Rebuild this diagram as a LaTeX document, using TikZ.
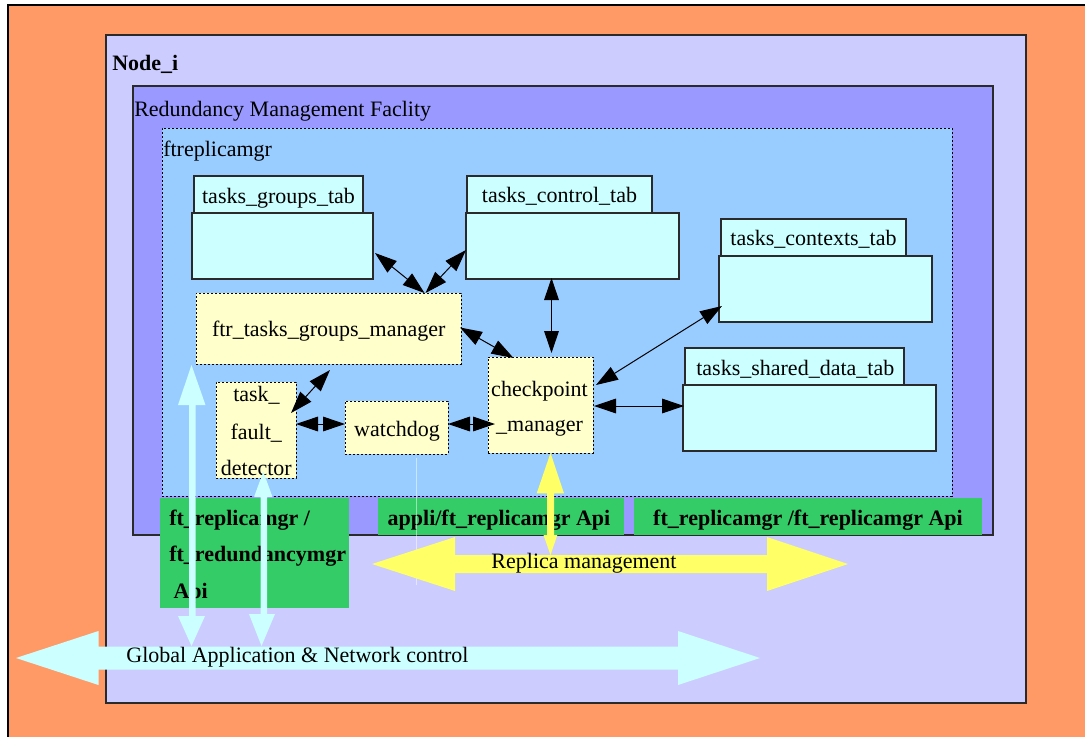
\documentclass[tikz,border=0pt]{standalone}
\usepackage{fontspec}
\setmainfont{Liberation Serif}
\usetikzlibrary{calc,arrows.meta}

\definecolor{siteorange}{HTML}{FF9966}
\definecolor{nodelav}{HTML}{CCCCFF}
\definecolor{rmfblue}{HTML}{9999FF}
\definecolor{ftrblue}{HTML}{99CCFF}
\definecolor{tabcyan}{HTML}{CCFFFF}
\definecolor{procyellow}{HTML}{FFFFCC}
\definecolor{apigreen}{HTML}{33CC66}
\definecolor{replyellow}{HTML}{FFFF66}
\definecolor{netcyan}{HTML}{CCFFFF}
\definecolor{edgegray}{HTML}{2A2A2A}

% box given by its top-left and bottom-right corners (in pixel units)
\newcommand{\pxbox}[6]{%
  \node[#2, minimum width={(#5-#3)*0.75pt}, minimum height={(#6-#4)*0.75pt}] (#1) at (#3,#4) {};}

\tikzset{
  px/.style={x=0.75pt,y=-0.75pt},
  txt/.style={font=\fontsize{16.5}{20}\selectfont, inner sep=0pt, anchor=base},
  btxt/.style={txt, font=\fontsize{16.5}{20}\selectfont\bfseries},
  box/.style={anchor=north west, inner sep=0pt, outer sep=0pt},
  frame/.style={box, draw=edgegray, line width=0.9pt},
  tabpart/.style={box, fill=tabcyan, draw=edgegray, line width=0.9pt},
  proc/.style={box, fill=procyellow, draw=black, line width=0.6pt, dash pattern=on 1.6pt off 1.4pt},
  api/.style={box, fill=apigreen},
  link/.style={draw=black, line width=0.75pt,
    {Triangle[length=16.5pt,width=11pt]}-{Triangle[length=16.5pt,width=11pt]}},
}

\begin{document}
\begin{tikzpicture}[px]
\useasboundingbox (0,0) rectangle (1085,736);
\clip (0,0) rectangle (1085,736);
\fill[white] (0,0) rectangle (1085,736);

% site background
\pxbox{site}{box, fill=siteorange, draw=black, line width=0.8pt}{8}{5}{1100}{750}

% Node_i
\pxbox{nodei}{frame, fill=nodelav}{106}{35}{1026}{703}
\node[btxt, anchor=base west] (nodeilbl) at (112,70.5) {Node\_i};

% Redundancy Management Facility
\pxbox{rmf}{frame, fill=rmfblue}{133}{86}{993}{535}
\node[txt, anchor=base west] (rmflbl) at (134,116) {Redundancy Management Faclity};

% ftreplicamgr
\pxbox{ftr}{proc, fill=ftrblue}{162}{128}{952}{496}
\node[txt, anchor=base west] (ftrlbl) at (163,156.5) {ftreplicamgr};

% tables
\pxbox{gtabb}{tabpart}{192}{213}{373}{279}
\pxbox{gtabh}{tabpart}{194}{176}{363}{213}
\node[txt] (gtablbl) at (278.5,203.3) {tasks\_groups\_tab};

\pxbox{ctabb}{tabpart}{466}{213}{679}{279}
\pxbox{ctabh}{tabpart}{467}{176}{652}{213}
\node[txt] (ctablbl) at (559.5,202.3) {tasks\_control\_tab};

\pxbox{xtabb}{tabpart}{719}{256}{932}{322}
\pxbox{xtabh}{tabpart}{721}{219}{906}{256}
\node[txt] (xtablbl) at (813.5,245) {tasks\_contexts\_tab};

\pxbox{stabb}{tabpart}{683}{385}{936}{451}
\pxbox{stabh}{tabpart}{685}{348}{904}{385}
\node[txt] (stablbl) at (795.3,375.7) {tasks\_shared\_data\_tab};

% processes
\pxbox{mgr}{proc}{196}{293}{461}{364}
\node[txt] (mgrlbl) at (328.7,336.7) {ftr\_tasks\_groups\_manager};

\pxbox{tfd}{proc}{216}{382}{296}{478}
\node[txt] (tfdlbl1) at (256.5,401.7) {task\_};
\node[txt] (tfdlbl2) at (256.2,439.3) {fault\_};
\node[txt] (tfdlbl3) at (256.3,475) {detector};

\pxbox{wd}{proc}{345}{401}{448}{454}
\node[txt] (wdlbl) at (397,436.7) {watchdog};

\pxbox{cpm}{proc}{488}{357}{593}{453}
\node[txt] (cpmlbl1) at (539.5,396.7) {checkpoint};
\node[txt] (cpmlbl2) at (539.5,431.7) {\_manager};

% connectors
\draw[link] ($(gtabb.east)+(2,7)$) -- ($(mgr.north)+(96,0)$);
\draw[link] ($(ctabb.west)+(0,4)$) -- ($(mgr.north)+(97,0)$);
\draw[link] ($(ctabb.south)+(-21,-1)$) -- ($(cpm.north)+(11,-4)$);
\draw[link] ($(mgr.east)+(-1,-1)$) -- ($(cpm.north)+(-27,1)$);
\draw[link] ($(cpm.east)+(3,-20)$) -- ($(xtabb.west)+(3,17)$);
\draw[link] ($(cpm.east)+(1,1)$) -- ($(stabb.west)+(1,-12)$);
\draw[link] ($(wd.east)+(0,-3.5)$) -- ($(cpm.west)+(7,19)$);
\draw[link] ($(tfd.east)+(0,-6)$) -- ($(wd.west)+(0,-3.5)$);
\draw[link] ($(mgr.south)+(1.5,6)$) -- ($(tfd.north east)+(-5,31)$);

% API bars
\pxbox{api1}{api}{160}{498}{349}{608}
\node[btxt, anchor=base west] (api1l1) at (169,525) {ft\_replicamgr /};
\node[btxt, anchor=base west] (api1l2) at (169,561.7) {ft\_redundancymgr};
\node[btxt, anchor=base west] (api1l3) at (173.3,598.3) {Api};

\pxbox{api2}{api}{378}{498}{624}{535}
\node[btxt] (api2lbl) at (499,525.7) {appli/ft\_replicamgr Api};

\pxbox{api3}{api}{634}{498}{982}{535}
\node[btxt] (api3lbl) at (808,525) {ft\_replicamgr /ft\_replicamgr Api};

% faint guide line
\draw[white, opacity=0.5, line width=0.4pt] (416.7,458) -- (416.7,585);

% replica management arrows
\coordinate (cpmport) at ($(cpm.south)+(10,0)$);
\fill[replyellow] (372,564) -- (455,537) -- (455,555) -- (767,555) -- (767,537)
  -- (848,564) -- (767,591) -- (767,573) -- (455,573) -- (455,591) -- cycle;
\fill[replyellow] (cpmport) -- (564,493.3) -- (554,493.3) -- (554,535) -- (557.3,535)
  -- (550.5,555) -- (543.5,535) -- (547,535) -- (547,493.3) -- (536.7,493.3) -- cycle;
\node[txt] (repllbl) at (584,568.3) {Replica management};

% global application & network control arrows
\fill[netcyan] (16,658) -- (98.5,631) -- (98.5,646.5) -- (678,646.5) -- (678,631)
  -- (760,658) -- (678,685) -- (678,669.5) -- (98.5,669.5) -- (98.5,685) -- cycle;
\fill[netcyan] (191.5,365) -- (205.5,405) -- (195.5,405) -- (195.5,616) -- (205,616)
  -- (191.5,646) -- (178,616) -- (189,616) -- (189,405) -- (178,405) -- cycle;
\fill[netcyan] (263.3,471.7) -- (272.5,497) -- (267,497) -- (267,614) -- (275,614)
  -- (261.5,646) -- (249,614) -- (260.5,614) -- (260.5,497) -- (254,497) -- cycle;
\node[txt] (netlbl) at (297.5,662.3) {Global Application \& Network control};
\end{tikzpicture}
\end{document}
